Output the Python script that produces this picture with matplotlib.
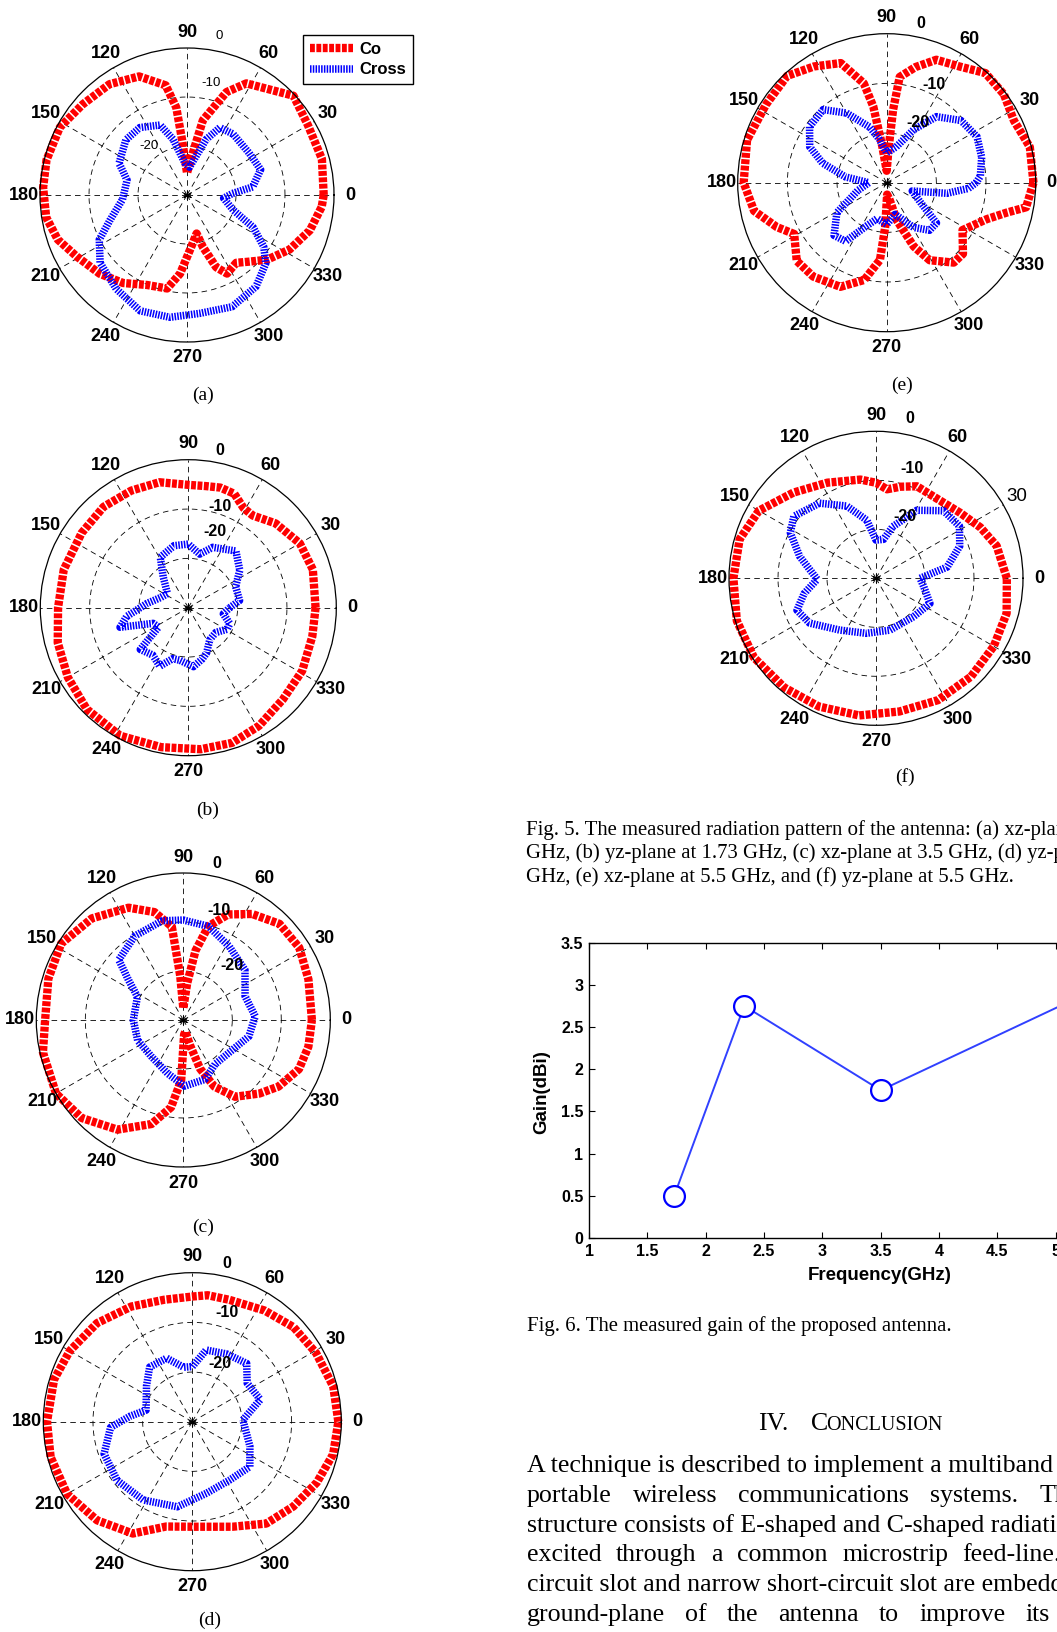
import numpy as np
import matplotlib.pyplot as plt

plt.rcParams['lines.scale_dashes'] = False

W, H = 1057, 1632
SANS = 'Liberation Sans'
SERIF = 'Liberation Serif'

# ---- radiation patterns, dB vs angle (deg) ----
# (a) xz-plane 1.73 GHz
a_co_ang = [0, 15, 30, 43, 62, 69, 78, 81, 90, 95, 97, 101, 112, 125, 139, 152, 166, 177,
            189, 199, 209, 222, 234, 246, 258, 265, 275, 284, 287, 292, 297, 306, 313, 321,
            332, 344, 355]
a_co = [-2.1, -1.5, -1.5, -0.3, -4.2, -7.5, -14.4, -20.1, -25.5, -18.9, -12, -7.2, -3.9,
        -2.4, -1.8, -0.6, -0.45, -0.6, -0.9, -2.1, -4.2, -6, -7.8, -9.9, -10.5, -13.9,
        -19.5, -21.9, -18.9, -14.1, -12, -12.9, -11.4, -9, -6.3, -3.9, -2.4]
a_x_ang = [2, 7, 19, 34, 53, 64, 71, 85, 94, 104, 111, 125, 138, 155, 166, 184, 198, 207,
           218, 233, 248, 262, 276, 292, 307, 319, 326, 334, 342, 355]
a_x = [-20.7, -16.5, -14.1, -14.7, -14.4, -14.7, -18, -24.3, -23.4, -18.3, -14.7, -13.2,
       -13.2, -14.7, -17.4, -16.8, -13.5, -9.9, -7.5, -6, -4.5, -4.8, -5.7, -5.4, -6.6,
       -8.7, -11.1, -15, -20.1, -22.5]

# (b) yz-plane 1.73 GHz
b_co_ang = [0, 17, 30, 44, 55, 61, 68, 75, 82, 90, 103, 116, 130, 145, 163, 180, 195, 210,
            225, 242, 259, 275, 288, 301, 316, 331, 347]
b_co = [-4.2, -3.6, -3.9, -5.4, -7.2, -6.9, -5.1, -4.8, -5.1, -5.1, -3.9, -3.6, -3.3, -3.6,
        -3.6, -3.6, -2.6, -1.8, -0.9, -0.6, -1.2, -1.2, -1.2, -2.1, -3.3, -3.6, -4.2]
b_x_ang = [0, 8, 24, 36, 50, 68, 78, 90, 103, 119, 129, 146, 160, 174, 188, 196, 204, 213,
           221, 233, 244, 253, 261, 275, 285, 292, 304, 318, 331, 339, 350]
b_x = [-21.6, -19.5, -19.5, -17.1, -15, -16.8, -18.9, -17.1, -17.1, -18.3, -21.9, -24.9,
       -24, -21.6, -17.4, -15.6, -22.2, -22.8, -17.1, -18, -16.8, -19.2, -19.2, -18, -19.2,
       -20.1, -22.2, -22.5, -21, -21, -22.8]

# (c) xz-plane 3.5 GHz
c_co_ang = [0, 18, 32, 45, 57, 67, 75, 80, 84, 90, 94, 97, 105, 116, 132, 148, 163, 180,
            193, 210, 224, 239, 253, 262, 268, 273, 280, 285, 289, 295, 304, 316, 325, 337,
            348]
c_co = [-3.75, -3.15, -2.1, -2.25, -4.2, -6.6, -10.2, -15.6, -22.5, -27.6, -21, -10.8, -7.2,
        -4.5, -2.1, -0.6, -1.2, -1.8, -0.6, 0, -1.2, -3.9, -7.8, -12, -17.7, -27, -27.6,
        -24.6, -19.5, -15, -11.1, -8.4, -6.3, -4.35, -3.9]
c_x_ang = [3, 21, 39, 58, 75, 90, 102, 120, 137, 144, 153, 180, 204, 229, 254, 271, 290,
           306, 323, 346]
c_x = [-15.3, -16.5, -13.8, -12.3, -10.2, -9.6, -9.3, -10.2, -12, -16.2, -19.5, -19.8,
       -19.8, -20.1, -18.6, -16.5, -17.1, -18.9, -18.6, -16.2]

# (d) yz-plane 3.5 GHz
d_co_ang = [0, 14, 29, 43, 57, 73, 83, 90, 103, 118, 134, 150, 163, 180, 194, 210, 226,
            242, 256, 270, 291, 306, 320, 334, 347]
d_co = [-0.6, -0.75, -1.5, -2.1, -3.3, -4.35, -4.35, -4.8, -4.8, -3.75, -2.4, -1.5, -0.9,
        -0.75, -0.6, -0.9, -2.4, -4.5, -8.25, -8.85, -7.35, -4.65, -3.45, -2.1, -0.9]
d_x_ang = [2, 18, 35, 47, 63, 79, 90, 99, 112, 128, 142, 166, 175, 184, 200, 218, 238,
           260, 281, 303, 322, 337]
d_x = [-19.8, -15.6, -16.5, -13.95, -14.7, -15.3, -18.9, -18.9, -16.2, -16.05, -18.3,
       -20.4, -17.4, -13.5, -11.1, -10.8, -11.4, -12.6, -15.3, -16.05, -15.3, -17.4]

# (e) xz-plane 5.5 GHz
e_co_ang = [0, 14, 26, 37, 48, 58, 68, 76, 83, 85, 87, 90, 97, 100, 103, 111, 122, 133,
            147, 163, 180, 192, 202, 209, 221, 232, 246, 257, 265, 268, 272, 280, 285, 293,
            299, 310, 317, 328, 340, 346, 350]
e_co = [-0.45, -0.3, -1.5, -0.45, -0.3, -2.4, -3.3, -6, -8.55, -15.3, -23.4, -27.6, -22.5,
        -14.4, -9.45, -4.2, -2.4, -0.6, -1.05, -0.6, -1.2, -2.7, -6.15, -8.7, -6, -6, -7.05,
        -9.9, -14.4, -21, -27.6, -26.4, -22.2, -16.05, -12.15, -9, -9, -12, -8.55, -5.1,
        -1.5]
e_x_ang = [0, 4, 15, 27, 40, 53, 63, 75, 90, 100, 107, 120, 131, 144, 155, 163, 172, 180,
           195, 211, 225, 235, 245, 255, 270, 285, 301, 312, 321, 330, 342, 350, 356]
e_x = [-12, -11.1, -10.2, -9.6, -10.5, -13.35, -18, -22.5, -24, -21, -18.3, -13.8, -10.5,
       -10.8, -12.9, -16.5, -21.6, -26.4, -24, -18.3, -15, -15.6, -20.4, -22.5, -21.6,
       -23.4, -19.5, -17.1, -17.1, -22.2, -24.6, -17.7, -13.5]

# (f) yz-plane 5.5 GHz
f_co_ang = [0, 15, 26, 38, 55, 66, 75, 83, 90, 99, 117, 134, 150, 164, 180, 197, 213, 230,
            246, 263, 280, 297, 314, 330, 345]
f_co = [-3.3, -4.5, -6.3, -8.25, -9.6, -9.45, -10.65, -11.7, -10.5, -9.6, -8.1, -5.7, -2.4,
        -1.05, -0.9, -0.3, -0.3, -0.9, -1.35, -1.8, -2.4, -2.1, -2.1, -2.25, -2.4]
f_x_ang = [0, 9, 21, 32, 45, 59, 72, 79, 90, 99, 112, 127, 143, 152, 164, 181, 192, 202,
           214, 235, 260, 285, 314, 335, 350]
f_x = [-21, -15.3, -11.7, -9.9, -10.5, -13.8, -18.9, -21.9, -22.2, -18, -14.1, -10.8, -9,
       -10.2, -13.8, -18, -15, -12.6, -13.65, -17.1, -18.6, -19.05, -19.05, -17.85, -20.1]

# ---- measured gain ----
freq = [1.73, 2.33, 3.5, 5.5]
gain = [0.5, 2.75, 1.75, 3.05]
gain_xticks = [1, 1.5, 2, 2.5, 3, 3.5, 4, 4.5, 5, 5.5, 6]
gain_xlabels = ['1', '1.5', '2', '2.5', '3', '3.5', '4', '4.5', '5', '5.5', '6']
gain_yticks = [0, 0.5, 1, 1.5, 2, 2.5, 3, 3.5]
gain_ylabels = ['0', '0.5', '1', '1.5', '2', '2.5', '3', '3.5']

fig = plt.figure(figsize=(W / 100, H / 100), dpi=100)


def fy(y):
    return 1 - y / H


def polar_panel(cx, cy, R, co_ang, co, x_ang, x, rlabels, rbold=True, letter=None,
                letter_xy=None, thin30=False):
    ax = fig.add_axes([(cx - R) / W, 1 - (cy + R) / H, 2 * R / W, 2 * R / H],
                      projection='polar')
    ax.set_ylim(-30, 0)
    ax.set_xticks([])
    ax.set_yticks([])
    ax.patch.set_alpha(0)
    ax.spines['polar'].set_linewidth(0.9)
    ring = np.linspace(0, 2 * np.pi, 361)
    for lev in (-20, -10):
        ax.plot(ring, np.full_like(ring, lev), color='k', lw=0.6, ls=(0, (4, 3)))
    rt = -30 + (R + 16) / R * 30
    for t in range(0, 360, 30):
        ax.plot(np.radians([t, t]), [-30, 0], color='k', lw=0.6, ls=(0, (4, 3)))
        if thin30 and t == 30:
            ax.text(np.radians(t), rt, str(t), ha='center', va='center', fontsize=13.5,
                    family=SANS)
        else:
            ax.text(np.radians(t), rt, str(t), ha='center', va='center', fontsize=13,
                    fontweight='bold', family=SANS)
    ax.plot([0], [-30], marker=(6, 2, 0), ms=6, color='k', mew=0.8)
    for ang, rpx, s in rlabels:
        ax.text(np.radians(ang), -30 + rpx / R * 30, s, ha='center', va='center',
                fontsize=11.5 if rbold else 9.5,
                fontweight='bold' if rbold else 'normal', family=SANS)
    lc, = ax.plot(np.radians(np.append(co_ang, co_ang[0])), np.append(co, co[0]),
                  color='red', lw=6, ls=(0, (3.5, 1.1)), dash_capstyle='butt',
                  clip_on=False, label='Co')
    lx, = ax.plot(np.radians(np.append(x_ang, x_ang[0])), np.append(x, x[0]),
                  color='blue', lw=5.4, ls=(0, (1.1, 0.9)), dash_capstyle='butt',
                  clip_on=False, label='Cross')
    fig.text(letter_xy[0] / W, fy(letter_xy[1]), letter, ha='center', va='center',
             fontsize=14, family=SERIF)
    return lc, lx


lc, lx = polar_panel(187, 195, 147, a_co_ang, a_co, a_x_ang, a_x,
                     [(78.6, 162, '0'), (78, 114, '-10'), (128, 62, '-20')], rbold=False,
                     letter='(a)', letter_xy=(203, 395))
polar_panel(188.3, 607.7, 148, b_co_ang, b_co, b_x_ang, b_x,
            [(78.6, 160, '0'), (72.6, 106, '-10'), (70.7, 80.5, '-20')],
            letter='(b)', letter_xy=(208, 810))
polar_panel(183.3, 1020, 147, c_co_ang, c_co, c_x_ang, c_x,
            [(78, 160, '0'), (72, 115, '-10'), (48.7, 73, '-20')],
            letter='(c)', letter_xy=(203, 1227))
polar_panel(192.3, 1421.7, 149, d_co_ang, d_co, d_x_ang, d_x,
            [(77.8, 162, '0'), (72.5, 114, '-10'), (64.6, 64.5, '-20')],
            letter='(d)', letter_xy=(210, 1620))
polar_panel(886.7, 182.7, 149, e_co_ang, e_co, e_x_ang, e_x,
            [(78, 163, '0'), (64, 109, '-10'), (63, 68, '-20')],
            letter='(e)', letter_xy=(902, 385))
polar_panel(876, 578.3, 147, f_co_ang, f_co, f_x_ang, f_x,
            [(78, 163.6, '0'), (72, 115.6, '-10'), (64.8, 68, '-20')],
            letter='(f)', letter_xy=(905, 777), thin30=True)

leg = fig.legend(handles=[lc, lx], loc='upper left', bbox_to_anchor=(303 / W, fy(35)),
                 prop={'family': SANS, 'weight': 'bold', 'size': 12}, fancybox=False,
                 edgecolor='k', framealpha=1, handlelength=2.6, borderpad=0.4,
                 labelspacing=0.35, handletextpad=0.4, borderaxespad=0)
leg.get_frame().set_linewidth(1.0)

# ---- gain plot ----
unit = 116.7
gx = fig.add_axes([589 / W, fy(1238), 5 * unit / W, (1238 - 942.6) / H])
gx.plot(freq, gain, color='#3040ff', lw=1.4, marker='o', ms=15, mfc='white', mec='blue',
        mew=1.6, clip_on=False)
gx.set_xlim(1, 6)
gx.set_ylim(0, 3.5)
gx.set_xticks(gain_xticks)
gx.set_xticklabels(gain_xlabels)
gx.set_yticks(gain_yticks)
gx.set_yticklabels(gain_ylabels)
gx.tick_params(direction='in', top=True, right=True, length=4, width=0.8, pad=4,
               labelsize=11.5)
for lab in gx.get_xticklabels() + gx.get_yticklabels():
    lab.set_fontweight('bold')
    lab.set_family(SANS)
for sp in gx.spines.values():
    sp.set_linewidth(1.0)
fig.text(880 / W, fy(1276), 'Frequency(GHz)', ha='center', va='center', fontsize=13.5,
         fontweight='bold', family=SANS)
fig.text(542 / W, fy(1092), 'Gain(dBi)', ha='center', va='center', rotation=90,
         fontsize=13.5, fontweight='bold', family=SANS)

# ---- page text ----
rend = fig.canvas.get_renderer()


def fit(t, width):
    w = t.get_window_extent(rend).width
    t.set_fontsize(t.get_fontsize() * width / w)
    return t.get_fontsize()


cap = ['Fig. 5. The measured radiation pattern of the antenna: (a) xz-plane at 1.73',
       'GHz, (b) yz-plane at 1.73 GHz, (c) xz-plane at 3.5 GHz, (d) yz-plane at 3.5',
       'GHz, (e) xz-plane at 5.5 GHz, and (f) yz-plane at 5.5 GHz.']
t3 = fig.text(526 / W, fy(882), cap[2], ha='left', va='baseline', fontsize=13, family=SERIF)
cs = fit(t3, 487)
fig.text(526 / W, fy(835), cap[0], ha='left', va='baseline', fontsize=cs, family=SERIF)
fig.text(526 / W, fy(858.5), cap[1], ha='left', va='baseline', fontsize=cs, family=SERIF)

t6 = fig.text(527 / W, fy(1331), 'Fig. 6. The measured gain of the proposed antenna.',
              ha='left', va='baseline', fontsize=13, family=SERIF)
fit(t6, 424)

line_y = [1472, 1501.8, 1531.6, 1561.4, 1591.2, 1621]
t1 = fig.text(527 / W, fy(line_y[0]), 'A technique is described to implement a multiband',
              ha='left', va='baseline', fontsize=16, family=SERIF)
bs = fit(t1, 527)

fig.text(758 / W, fy(1430), 'IV.', ha='left', va='baseline', fontsize=bs, family=SERIF)
tc = fig.text(811 / W, fy(1430), 'C', ha='left', va='baseline', fontsize=bs, family=SERIF)
cx1 = tc.get_window_extent(rend).x1
fig.text((cx1 - 2) / W, fy(1430), 'ONCLUSION', ha='left', va='baseline',
         fontsize=bs * 0.78, family=SERIF)

fig.text(527 / W, fy(line_y[2]), 'structure consists of E-shaped and C-shaped radiating',
         ha='left', va='baseline', fontsize=bs, family=SERIF)
fig.text(527 / W, fy(line_y[4]), 'circuit slot and narrow short-circuit slot are embedded',
         ha='left', va='baseline', fontsize=bs, family=SERIF)

# justified lines: words laid out with a wider, per-line gap (px)
spread = [
    (line_y[1], 21, ['portable', 'wireless', 'communications', 'systems.', 'The']),
    (line_y[3], 14.5, ['excited', 'through', 'a', 'common', 'microstrip', 'feed-line.']),
    (line_y[5], 20, ['ground-plane', 'of', 'the', 'antenna', 'to', 'improve', 'its']),
]
for yb, gap, words in spread:
    xw = 527
    for w in words:
        tw = fig.text(xw / W, fy(yb), w, ha='left', va='baseline', fontsize=bs,
                      family=SERIF)
        xw += tw.get_window_extent(rend).width + gap

fig.savefig('out.png', dpi=100)
